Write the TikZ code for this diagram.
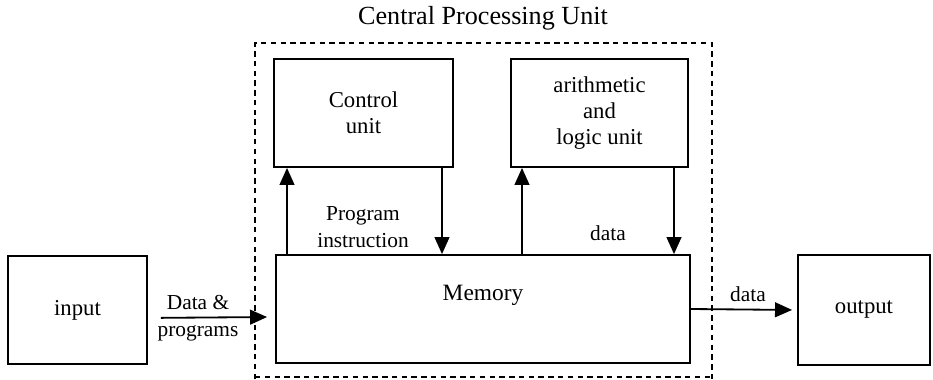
\documentclass[tikz,border=0pt]{standalone}
\usepackage{fontspec}
\setmainfont{Liberation Serif}
\usetikzlibrary{arrows.meta,positioning}

\begin{document}
\begin{tikzpicture}[x=0.44pt,y=-0.44pt,
      box/.style={
         rectangle,
         draw,
         thick,
         inner sep=0pt,
         minimum height=47.5pt,
         align=center,
         font=\fontsize{10}{11.5}\selectfont
      },
      caption/.style={
         inner sep=1pt,
         align=center,
         font=\fontsize{9.4}{12}\selectfont
      },
      cpu/.style={thick,dash pattern=on 2.4pt off 1.9pt},
      tip/.style={thick,-{Triangle[length=7.5pt,width=6.5pt]}},
      >=Triangle
    ]
    \useasboundingbox (0,0) rectangle (933,379);
    % CPU boundary (open at the bottom edge)
    \draw[cpu] (255,379) -- (255,43) -- (712,43) -- (712,379);
    \draw[cpu] (255,377) -- (712,377);
    \node (cputitle) [caption,font=\fontsize{11.5}{13}\selectfont] at (483,18) {Central Processing Unit};
    % units
    \node (control) [box, minimum width=78.8pt] at (363.5,113) {Control\\unit};
    \node (alu) [box, minimum width=77.9pt] at (599.5,113) {arithmetic\\and\\logic unit};
    \node (memory) [box, minimum width=182.2pt] at (483,309) {};
    \node (memtext) [caption,font=\fontsize{10.3}{12}\selectfont] at (483,295) {Memory};
    \node (input) [box, minimum width=61.2pt] at (77.5,310) {input};
    \node (output) [box, minimum width=58.1pt, minimum height=48.4pt] at (864,310) {output};
    % memory <-> units
    \draw[tip] (memory.north -| 287,0) -- (control.south -| 287,0);
    \draw[tip] (control.south -| 442,0) -- (memory.north -| 442,0);
    \draw[tip] (memory.north -| 522,0) -- (alu.south -| 522,0);
    \draw[tip] (alu.south -| 674,0) -- (memory.north -| 674,0);
    \node (proglab) [caption] at (363,227) {Program\\instruction};
    \node (datalab) [caption] at (608,233) {data};
    % input and output
    \draw[tip, shorten <=5.7pt, shorten >=3.5pt] ([yshift=-3.5pt]input.east) -- ([yshift=-3.5pt]memory.west);
    \node (inlab) [caption] at (198,318) {Data \&\\programs};
    \draw[tip, shorten >=2.2pt] (memory.east) -- (output.west);
    \node (outlab) [caption] at (748,294) {data};
\end{tikzpicture}
\end{document}
